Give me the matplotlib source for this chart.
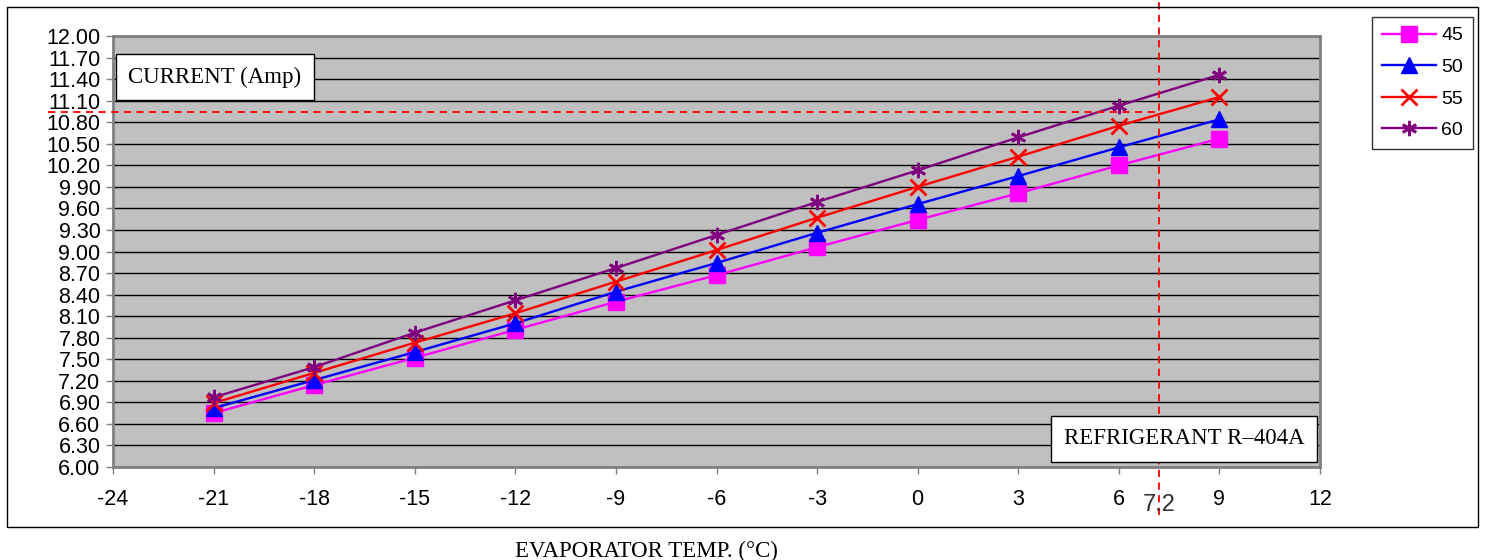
import numpy as np
import matplotlib
matplotlib.use('Agg')
import matplotlib.pyplot as plt
from matplotlib.patches import Rectangle
from matplotlib.lines import Line2D
from matplotlib.transforms import blended_transform_factory

plt.rcParams['font.family'] = ['Liberation Sans', 'DejaVu Sans']

# evaporator temperature (°C)
evap_temp = [-21, -18, -15, -12, -9, -6, -3, 0, 3, 6, 9]

# current (Amp) per condensing temperature series
cur_45 = [6.75, 7.14, 7.52, 7.91, 8.30, 8.67, 9.06, 9.44, 9.81, 10.20, 10.57]
cur_50 = [6.82, 7.21, 7.60, 8.00, 8.44, 8.84, 9.26, 9.66, 10.05, 10.45, 10.84]
cur_55 = [6.89, 7.31, 7.73, 8.14, 8.58, 9.02, 9.47, 9.90, 10.32, 10.75, 11.15]
cur_60 = [6.97, 7.39, 7.87, 8.32, 8.77, 9.23, 9.69, 10.13, 10.59, 11.03, 11.46]

series_labels = ['45', '50', '55', '60']
series_colors = ['#FF00FF', '#0000FF', '#FF0000', '#800080']
series_markers = ['s', '^', 'x', (6, 2, 0)]

ref_temp = 7.2
ref_current = 10.94

xticks = np.arange(-24, 13, 3)
yticks = np.arange(6.0, 12.01, 0.3)

W, H = 1492, 560
fig = plt.figure(figsize=(W / 100, H / 100), dpi=100)
ax = fig.add_axes([113 / W, 1 - 467 / H, (1320 - 113) / W, (467 - 36) / H])
ax.set_facecolor('#C0C0C0')

for vals, lab, col, mk in zip([cur_45, cur_50, cur_55, cur_60], series_labels,
                              series_colors, series_markers):
    mew = 2 if mk in ('x', (6, 2, 0)) else 1
    ax.plot(evap_temp, vals, color=col, lw=1.7, marker=mk, ms=11, mew=mew,
            mec=col, mfc=col, label=lab, zorder=3)

ax.set_xlim(-24, 12)
ax.set_ylim(6.0, 12.0)
ax.set_xticks(xticks)
ax.set_xticklabels([str(v) for v in xticks])
ax.set_yticks(yticks)
ax.set_yticklabels([f'{v:.2f}' for v in yticks])
ax.tick_params(axis='both', labelsize=15.5, length=5, width=1, color='#808080')
ax.tick_params(axis='x', pad=11)
ax.tick_params(axis='y', pad=4)
ax.grid(axis='y', color='black', lw=1)
ax.set_axisbelow(True)
for s in ax.spines.values():
    s.set_color('#808080')
    s.set_linewidth(2)

# reference lines
bt = blended_transform_factory(ax.transData, fig.transFigure)
ax.plot([ref_temp, ref_temp], [1 - 515 / H, 1.0], transform=bt, color='red',
        ls=(0, (4, 3)), lw=1.3, clip_on=False, zorder=5)
p = fig.transFigure.inverted().transform(ax.transData.transform((ref_temp, ref_current)))
fig.add_artist(Line2D([48 / W, p[0]], [p[1], p[1]], color='red', ls=(0, (4, 3)), lw=1.3))

fig.text(p[0], 1 - 505 / H, '7.2', ha='center', va='center', fontsize=17, color='#303030')

# text boxes
box = dict(boxstyle='square,pad=0.55', fc='white', ec='black', lw=1)
fig.text(215 / W, 1 - 77 / H, 'CURRENT (Amp)', family='Liberation Serif', fontsize=16.5,
         ha='center', va='center', bbox=box)
fig.text(1184 / W, 1 - 439 / H, 'REFRIGERANT R\u2012404A', family='Liberation Serif',
         fontsize=16.5, ha='center', va='center', bbox=box, zorder=4)

fig.text(646 / W, 1 - 551 / H, 'EVAPORATOR TEMP. (°C)', family='Liberation Serif',
         fontsize=16.5, ha='center', va='center')

leg = fig.legend(loc='upper left', bbox_to_anchor=(1372 / W, 1 - 17 / H),
                 fontsize=14, frameon=True, fancybox=False, edgecolor='black',
                 handlelength=2.8, handletextpad=0.25, labelspacing=0.72,
                 borderaxespad=0, borderpad=0.5)
leg.get_frame().set_linewidth(1)

fig.add_artist(Rectangle((7 / W, 1 - 527 / H), (1478 - 7) / W, (527 - 7) / H,
                         transform=fig.transFigure, fill=False, ec='black', lw=1))

fig.savefig('out.png', dpi=100)
